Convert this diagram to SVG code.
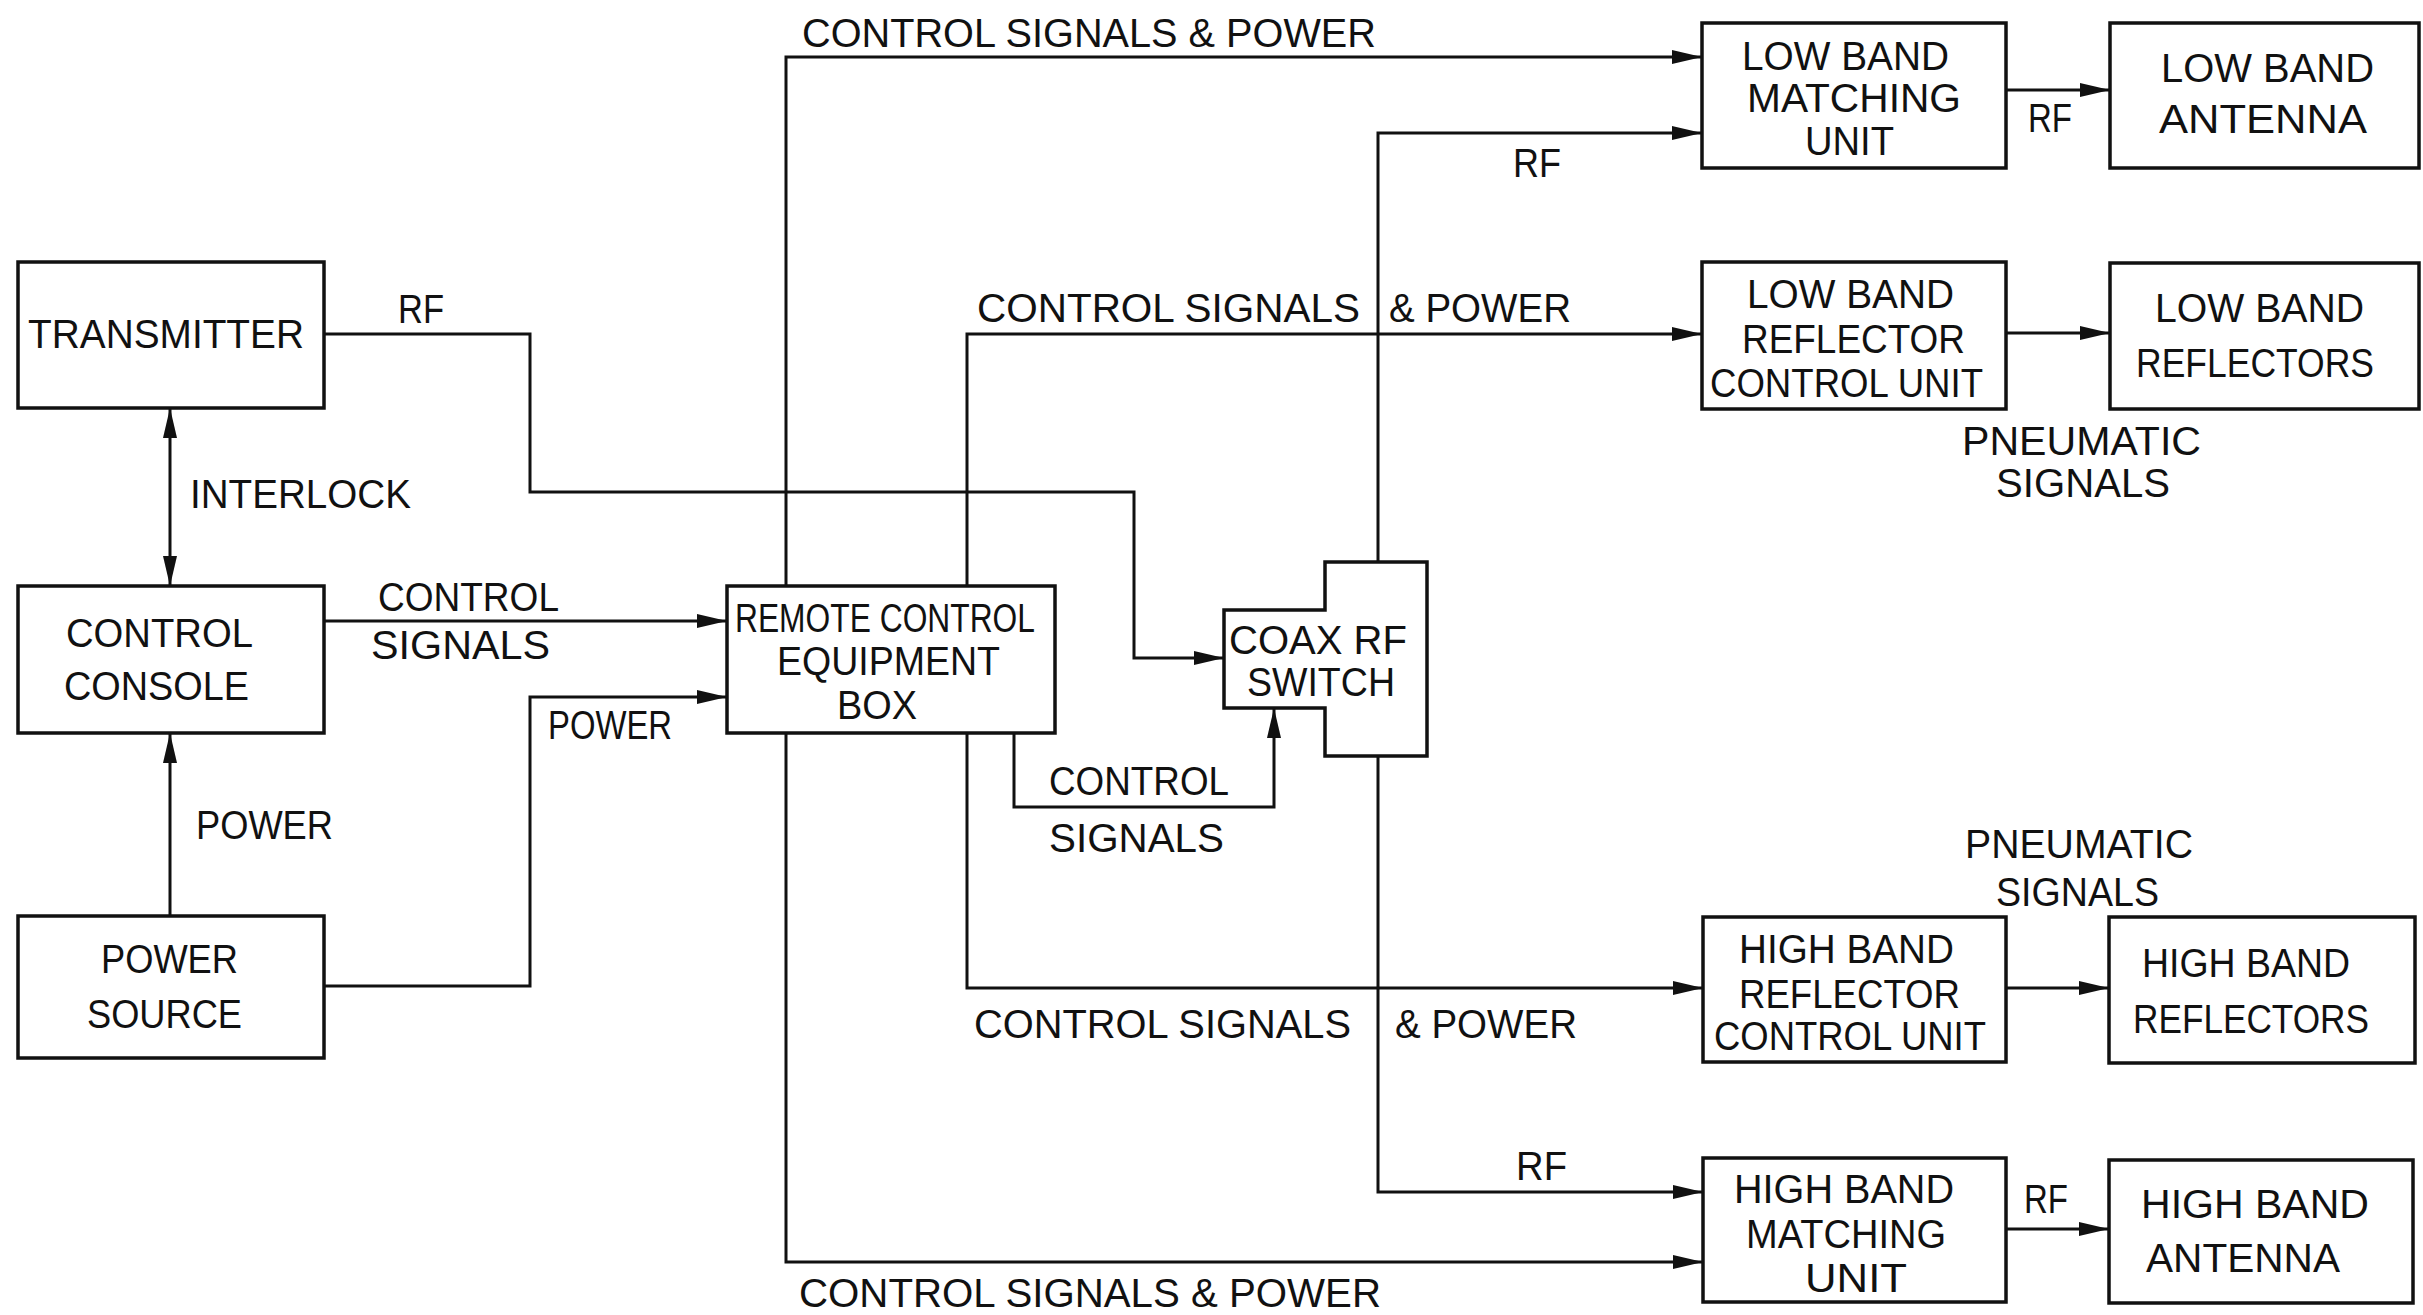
<svg xmlns="http://www.w3.org/2000/svg" width="2423" height="1315" viewBox="0 0 2423 1315">
<style>
.bx{fill:#fff;stroke:#111;stroke-width:3.5}
.ln{fill:none;stroke:#111;stroke-width:3}
.ar{marker-end:url(#ah)}
text{font-family:"Liberation Sans",Arial,sans-serif;font-size:41px;fill:#111}
</style>
<defs>
<marker id="ah" viewBox="0 0 30 14" refX="30" refY="7" markerWidth="30" markerHeight="14" markerUnits="userSpaceOnUse" orient="auto-start-reverse">
<path d="M0,0 L30,7 L0,14 Z" fill="#111"/>
</marker>
</defs>
<rect width="2423" height="1315" fill="#fff"/>
<g id="connectors">
<path class="ln ar" d="M324,334 H530 V492 H1134 V658 H1224"/>
<path class="ln ar" d="M170,408 V586" marker-start="url(#ah)"/>
<path class="ln ar" d="M324,621 H727"/>
<path class="ln ar" d="M170,916 V733"/>
<path class="ln ar" d="M324,986 H530 V697 H727"/>
<path class="ln ar" d="M786,586 V57 H1702"/>
<path class="ln ar" d="M967,586 V334 H1702"/>
<path class="ln ar" d="M1378,562 V133 H1702"/>
<path class="ln ar" d="M786,733 V1262 H1703"/>
<path class="ln ar" d="M967,733 V988 H1703"/>
<path class="ln ar" d="M1378,756 V1192 H1703"/>
<path class="ln ar" d="M1014,733 V807 H1274 V708"/>
<path class="ln ar" d="M2006,90 H2110"/>
<path class="ln ar" d="M2006,333 H2110"/>
<path class="ln ar" d="M2006,988 H2109"/>
<path class="ln ar" d="M2006,1229 H2109"/>
<text x="398" y="323" textLength="46" lengthAdjust="spacingAndGlyphs">RF</text>
<text x="190" y="508" textLength="221" lengthAdjust="spacingAndGlyphs">INTERLOCK</text>
<text x="378" y="611" textLength="181" lengthAdjust="spacingAndGlyphs">CONTROL</text>
<text x="371" y="659" textLength="179" lengthAdjust="spacingAndGlyphs">SIGNALS</text>
<text x="196" y="839" textLength="137" lengthAdjust="spacingAndGlyphs">POWER</text>
<text x="548" y="739" textLength="124" lengthAdjust="spacingAndGlyphs">POWER</text>
<text x="1049" y="795" textLength="180" lengthAdjust="spacingAndGlyphs">CONTROL</text>
<text x="1049" y="852" textLength="175" lengthAdjust="spacingAndGlyphs">SIGNALS</text>
<text x="802" y="47" textLength="574" lengthAdjust="spacingAndGlyphs">CONTROL SIGNALS &amp; POWER</text>
<text x="1513" y="177" textLength="48" lengthAdjust="spacingAndGlyphs">RF</text>
<text x="977" y="322" textLength="383" lengthAdjust="spacingAndGlyphs">CONTROL SIGNALS</text>
<text x="1389" y="322" textLength="182" lengthAdjust="spacingAndGlyphs">&amp; POWER</text>
<text x="974" y="1038" textLength="377" lengthAdjust="spacingAndGlyphs">CONTROL SIGNALS</text>
<text x="1395" y="1038" textLength="182" lengthAdjust="spacingAndGlyphs">&amp; POWER</text>
<text x="1516" y="1180" textLength="51" lengthAdjust="spacingAndGlyphs">RF</text>
<text x="799" y="1307" textLength="582" lengthAdjust="spacingAndGlyphs">CONTROL SIGNALS &amp; POWER</text>
<text x="2028" y="132" textLength="44" lengthAdjust="spacingAndGlyphs">RF</text>
<text x="1962" y="455" textLength="239" lengthAdjust="spacingAndGlyphs">PNEUMATIC</text>
<text x="1996" y="497" textLength="174" lengthAdjust="spacingAndGlyphs">SIGNALS</text>
<text x="1965" y="858" textLength="228" lengthAdjust="spacingAndGlyphs">PNEUMATIC</text>
<text x="1996" y="906" textLength="163" lengthAdjust="spacingAndGlyphs">SIGNALS</text>
<text x="2024" y="1213" textLength="44" lengthAdjust="spacingAndGlyphs">RF</text>
</g>
<g id="transmitter">
<rect class="bx" x="18" y="262" width="306" height="146"/>
<text x="28" y="348" textLength="276" lengthAdjust="spacingAndGlyphs">TRANSMITTER</text>
</g>
<g id="control-console">
<rect class="bx" x="18" y="586" width="306" height="147"/>
<text x="66" y="647" textLength="187" lengthAdjust="spacingAndGlyphs">CONTROL</text>
<text x="64" y="700" textLength="185" lengthAdjust="spacingAndGlyphs">CONSOLE</text>
</g>
<g id="power-source">
<rect class="bx" x="18" y="916" width="306" height="142"/>
<text x="101" y="973" textLength="137" lengthAdjust="spacingAndGlyphs">POWER</text>
<text x="87" y="1028" textLength="155" lengthAdjust="spacingAndGlyphs">SOURCE</text>
</g>
<g id="remote-control-box">
<rect class="bx" x="727" y="586" width="328" height="147"/>
<text x="735" y="632" textLength="300" lengthAdjust="spacingAndGlyphs">REMOTE CONTROL</text>
<text x="777" y="675" textLength="223" lengthAdjust="spacingAndGlyphs">EQUIPMENT</text>
<text x="837" y="719" textLength="80" lengthAdjust="spacingAndGlyphs">BOX</text>
</g>
<g id="coax-rf-switch">
<path class="bx" d="M1224,610 H1325 V562 H1427 V756 H1325 V708 H1224 Z"/>
<text x="1229" y="654" textLength="178" lengthAdjust="spacingAndGlyphs">COAX RF</text>
<text x="1247" y="696" textLength="148" lengthAdjust="spacingAndGlyphs">SWITCH</text>
</g>
<g id="low-band-matching-unit">
<rect class="bx" x="1702" y="23" width="304" height="145"/>
<text x="1742" y="70" textLength="207" lengthAdjust="spacingAndGlyphs">LOW BAND</text>
<text x="1747" y="112" textLength="214" lengthAdjust="spacingAndGlyphs">MATCHING</text>
<text x="1805" y="155" textLength="89" lengthAdjust="spacingAndGlyphs">UNIT</text>
</g>
<g id="low-band-antenna">
<rect class="bx" x="2110" y="23" width="309" height="145"/>
<text x="2161" y="82" textLength="213" lengthAdjust="spacingAndGlyphs">LOW BAND</text>
<text x="2159" y="133" textLength="208" lengthAdjust="spacingAndGlyphs">ANTENNA</text>
</g>
<g id="low-band-reflector-control-unit">
<rect class="bx" x="1702" y="262" width="304" height="147"/>
<text x="1747" y="308" textLength="207" lengthAdjust="spacingAndGlyphs">LOW BAND</text>
<text x="1742" y="353" textLength="223" lengthAdjust="spacingAndGlyphs">REFLECTOR</text>
<text x="1710" y="397" textLength="273" lengthAdjust="spacingAndGlyphs">CONTROL UNIT</text>
</g>
<g id="low-band-reflectors">
<rect class="bx" x="2110" y="263" width="309" height="146"/>
<text x="2155" y="322" textLength="209" lengthAdjust="spacingAndGlyphs">LOW BAND</text>
<text x="2136" y="377" textLength="238" lengthAdjust="spacingAndGlyphs">REFLECTORS</text>
</g>
<g id="high-band-reflector-control-unit">
<rect class="bx" x="1703" y="917" width="303" height="145"/>
<text x="1739" y="963" textLength="215" lengthAdjust="spacingAndGlyphs">HIGH BAND</text>
<text x="1739" y="1008" textLength="221" lengthAdjust="spacingAndGlyphs">REFLECTOR</text>
<text x="1714" y="1050" textLength="272" lengthAdjust="spacingAndGlyphs">CONTROL UNIT</text>
</g>
<g id="high-band-reflectors">
<rect class="bx" x="2109" y="917" width="306" height="146"/>
<text x="2142" y="977" textLength="208" lengthAdjust="spacingAndGlyphs">HIGH BAND</text>
<text x="2133" y="1033" textLength="236" lengthAdjust="spacingAndGlyphs">REFLECTORS</text>
</g>
<g id="high-band-matching-unit">
<rect class="bx" x="1703" y="1158" width="303" height="144"/>
<text x="1734" y="1203" textLength="220" lengthAdjust="spacingAndGlyphs">HIGH BAND</text>
<text x="1746" y="1248" textLength="200" lengthAdjust="spacingAndGlyphs">MATCHING</text>
<text x="1805" y="1292" textLength="102" lengthAdjust="spacingAndGlyphs">UNIT</text>
</g>
<g id="high-band-antenna">
<rect class="bx" x="2109" y="1160" width="304" height="143"/>
<text x="2141" y="1218" textLength="228" lengthAdjust="spacingAndGlyphs">HIGH BAND</text>
<text x="2146" y="1272" textLength="194" lengthAdjust="spacingAndGlyphs">ANTENNA</text>
</g>
</svg>
